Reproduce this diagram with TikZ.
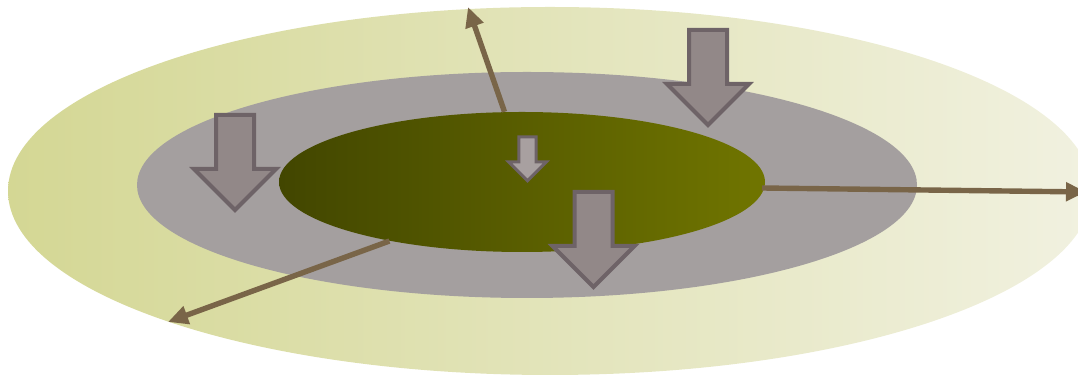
\documentclass[tikz,border=0pt]{standalone}
\usepackage{tikz}
\usetikzlibrary{shapes.geometric, arrows.meta}
\definecolor{rimLight}{RGB}{241,241,224}
\definecolor{rimDark}{RGB}{212,215,148}
\definecolor{ringGray}{RGB}{164,159,159}
\definecolor{coreDark}{RGB}{66,70,0}
\definecolor{coreLight}{RGB}{112,117,0}
\definecolor{flowBrown}{RGB}{121,101,72}
\definecolor{pushFill}{RGB}{146,136,136}
\definecolor{pushEdge}{RGB}{110,99,103}

\tikzset{
  flowline/.style={draw=flowBrown, line width=2.7pt, -{Triangle[length=10pt, width=9pt]}},
  pushline/.style={draw=pushEdge, fill=pushFill, line width=2pt},
  pushdown/.pic={
    \filldraw[pushline] (-19,0) -- (19,0) -- (19,54) -- (41,54) -- (0,95) -- (-41,54) -- (-19,54) -- cycle;
  }
}

\begin{document}
\begin{tikzpicture}[x=0.5pt, y=-0.5pt]
    \useasboundingbox (0,0) rectangle (1078,378);
    \clip (0,0) rectangle (1078,378);

    \node[ellipse, inner sep=0pt, minimum width=542pt, minimum height=184pt, left color=rimDark, right color=rimLight] (outer) at (550,191) {};
    \node[ellipse, inner sep=0pt, minimum width=390pt, minimum height=113pt, fill=ringGray] (ring) at (527,185) {};
    \node[ellipse, inner sep=0pt, minimum width=243pt, minimum height=70pt, left color=coreDark, right color=coreLight] (core) at (522,182) {};

    \coordinate (rightStart) at (762,188);
    \coordinate (upEnd) at (468,7);
    \coordinate (leftEnd) at (168,322);
    \coordinate (rightEnd) at (1086,192);
    \draw[flowline] (core.104) -- (upEnd);
    \draw[flowline] (core.204) -- (leftEnd);
    \draw[flowline] (rightStart) -- (rightEnd);

    \pic (pushA) at (235,115) {pushdown};
    \pic (pushB) at (708,30) {pushdown};
    \pic (pushC) at (593.5,192) {pushdown};
    \pic[scale=0.46, pushline/.append style={line width=1.5pt, fill=pushFill!80!white}] (pushD) at (527.5,137) {pushdown};
\end{tikzpicture}
\end{document}
